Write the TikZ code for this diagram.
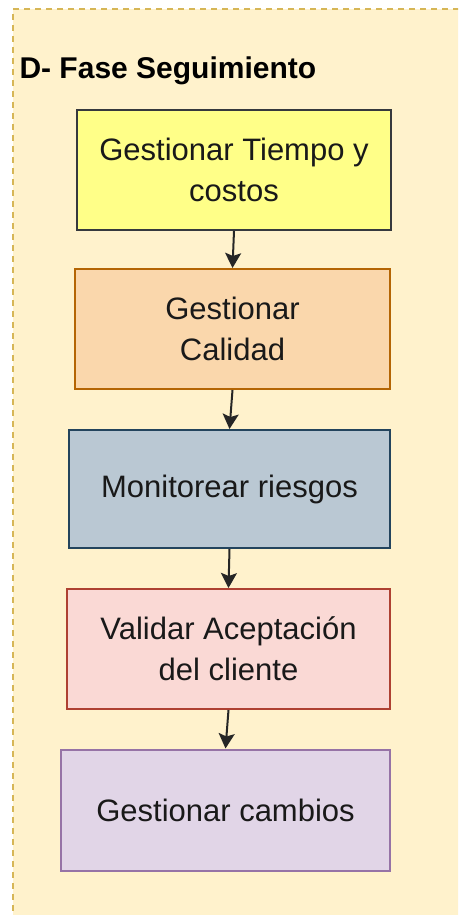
\documentclass[tikz,border=0pt]{standalone}
\usepackage{fontspec}
\setmainfont{Liberation Sans}
\usetikzlibrary{arrows.meta}
\definecolor{bgfill}{HTML}{FFF2CC}
\definecolor{bgline}{HTML}{D6B656}
\definecolor{yfill}{HTML}{FFFF88}
\definecolor{yline}{HTML}{36393D}
\definecolor{ofill}{HTML}{FAD7AC}
\definecolor{oline}{HTML}{B46504}
\definecolor{bfill}{HTML}{BAC8D3}
\definecolor{bline}{HTML}{23445D}
\definecolor{pfill}{HTML}{FAD9D5}
\definecolor{pline}{HTML}{AE4132}
\definecolor{vfill}{HTML}{E1D5E7}
\definecolor{vline}{HTML}{9673A6}
\tikzset{
  stepbox/.style={rectangle, line width=2pt, align=center, inner sep=0pt,
    font=\fontsize{31}{41}\selectfont, text=black!90},
  flow/.style={line width=2pt, draw=black!85, -{Stealth[width=16pt,length=15pt,inset=3pt]}},
}
\begin{document}
\begin{tikzpicture}[x=1pt,y=1pt]
\useasboundingbox (0,0) rectangle (458,-915);
\clip (0,0) rectangle (458,-915);
\fill[white] (0,0) rectangle (458,-915);
\fill[bgfill] (13,-9) rectangle (470,-930);
\draw[bgline, line width=1.5pt, dash pattern=on 6pt off 5pt] (470,-9) -- (13,-9) -- (13,-930);
\node[anchor=base west, font=\bfseries\fontsize{30}{36}\selectfont, text=black] (title) at (16,-79) {D- Fase Seguimiento};
\node[stepbox, fill=yfill, draw=yline, minimum width=314pt, minimum height=120pt] (b1) at (234,-170) {Gestionar Tiempo y\\costos};
\node[stepbox, fill=ofill, draw=oline, minimum width=315pt, minimum height=120pt] (b2) at (232.5,-329) {Gestionar\\Calidad};
\node[stepbox, fill=bfill, draw=bline, minimum width=321pt, minimum height=118pt] (b3) at (229.5,-489) {Monitorear riesgos};
\node[stepbox, fill=pfill, draw=pline, minimum width=323pt, minimum height=120pt] (b4) at (228.5,-649) {Validar Aceptación\\del cliente};
\node[stepbox, fill=vfill, draw=vline, minimum width=329pt, minimum height=121pt] (b5) at (225.5,-810) {Gestionar cambios};
\draw[flow] (b1.south) -- (b2.north);
\draw[flow] (b2.south) -- (b3.north);
\draw[flow] (b3.south) -- (b4.north);
\draw[flow] (b4.south) -- (b5.north);
\end{tikzpicture}
\end{document}
